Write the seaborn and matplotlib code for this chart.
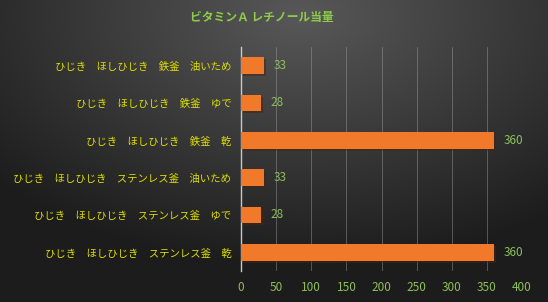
import numpy as np
import pandas as pd
import matplotlib
matplotlib.use("Agg")
import matplotlib.pyplot as plt
import matplotlib.patheffects as pe
import seaborn as sns

categories = [
    "ひじき　ほしひじき　鉄釜　油いため",
    "ひじき　ほしひじき　鉄釜　ゆで",
    "ひじき　ほしひじき　鉄釜　乾",
    "ひじき　ほしひじき　ステンレス釜　油いため",
    "ひじき　ほしひじき　ステンレス釜　ゆで",
    "ひじき　ほしひじき　ステンレス釜　乾",
]
values = [33, 28, 360, 33, 28, 360]
x_ticks = [0, 50, 100, 150, 200, 250, 300, 350, 400]
title = "ビタミンＡ レチノール当量"

sns.set_theme(style="white")
plt.rcParams['font.family'] = ['Noto Sans CJK JP', 'DejaVu Sans']

fig = plt.figure(figsize=(5.48, 3.02), dpi=100)

# background radial gradient
bg = fig.add_axes([0, 0, 1, 1], zorder=-10)
h, w = 302, 548
yy, xx = np.mgrid[0:h, 0:w]
cx, cy = 0.55 * w, 0.05 * h
r = np.sqrt(((xx - cx) / w) ** 2 + ((yy - cy) / h * 0.9) ** 2)
r = np.clip(r / 0.75, 0, 1)
light = np.array([0x58, 0x58, 0x58]) / 255
dark = np.array([0x1c, 0x1c, 0x1c]) / 255
img = light[None, None, :] * (1 - r[..., None]) + dark[None, None, :] * r[..., None]
bg.imshow(img, aspect='auto', extent=[0, 1, 0, 1])
bg.axis('off')

ax = fig.add_axes([241 / 548, 1 - 271 / 302, (522 - 241) / 548, (271 - 47) / 302])
ax.patch.set_alpha(0)

df = pd.DataFrame({"cat": categories, "val": values})
sns.barplot(data=df, y="cat", x="val", orient="h", color="#f07a2a", width=0.45,
            saturation=1, ax=ax, zorder=3)
for p in ax.patches:
    p.set_path_effects([pe.SimplePatchShadow(offset=(1.5, -1.5), alpha=0.5), pe.Normal()])
    p.set_edgecolor("none")

ax.set_xlim(0, 400)
ax.set_xticks(x_ticks)
ax.set_xticklabels([str(t) for t in x_ticks], color="#8cbf5a", fontsize=8.5)
ax.tick_params(axis='x', length=0, pad=7)
ax.tick_params(axis='y', length=0, pad=7)
for lab in ax.get_yticklabels():
    lab.set_color("#dede00")
    lab.set_fontsize(7.5)
ax.set_xlabel("")
ax.set_ylabel("")
ax.grid(axis='x', color="#a0a0a0", linewidth=0.7, alpha=0.45, zorder=0)
ax.set_axisbelow(True)
for s in ["top", "right", "bottom"]:
    ax.spines[s].set_visible(False)
ax.spines["left"].set_color("#c8c8c8")
ax.spines["left"].set_linewidth(1)

for i, v in enumerate(values):
    ax.text(v + 14, i, str(v), va='center', ha='left', color="#8cbf5a", fontsize=8.5)

fig.text(0.478, 1 - 18 / 302, title, ha='center', va='center', color="#8ccc48",
         fontsize=8.5, fontweight='bold')

fig.savefig("out.png", dpi=100)
